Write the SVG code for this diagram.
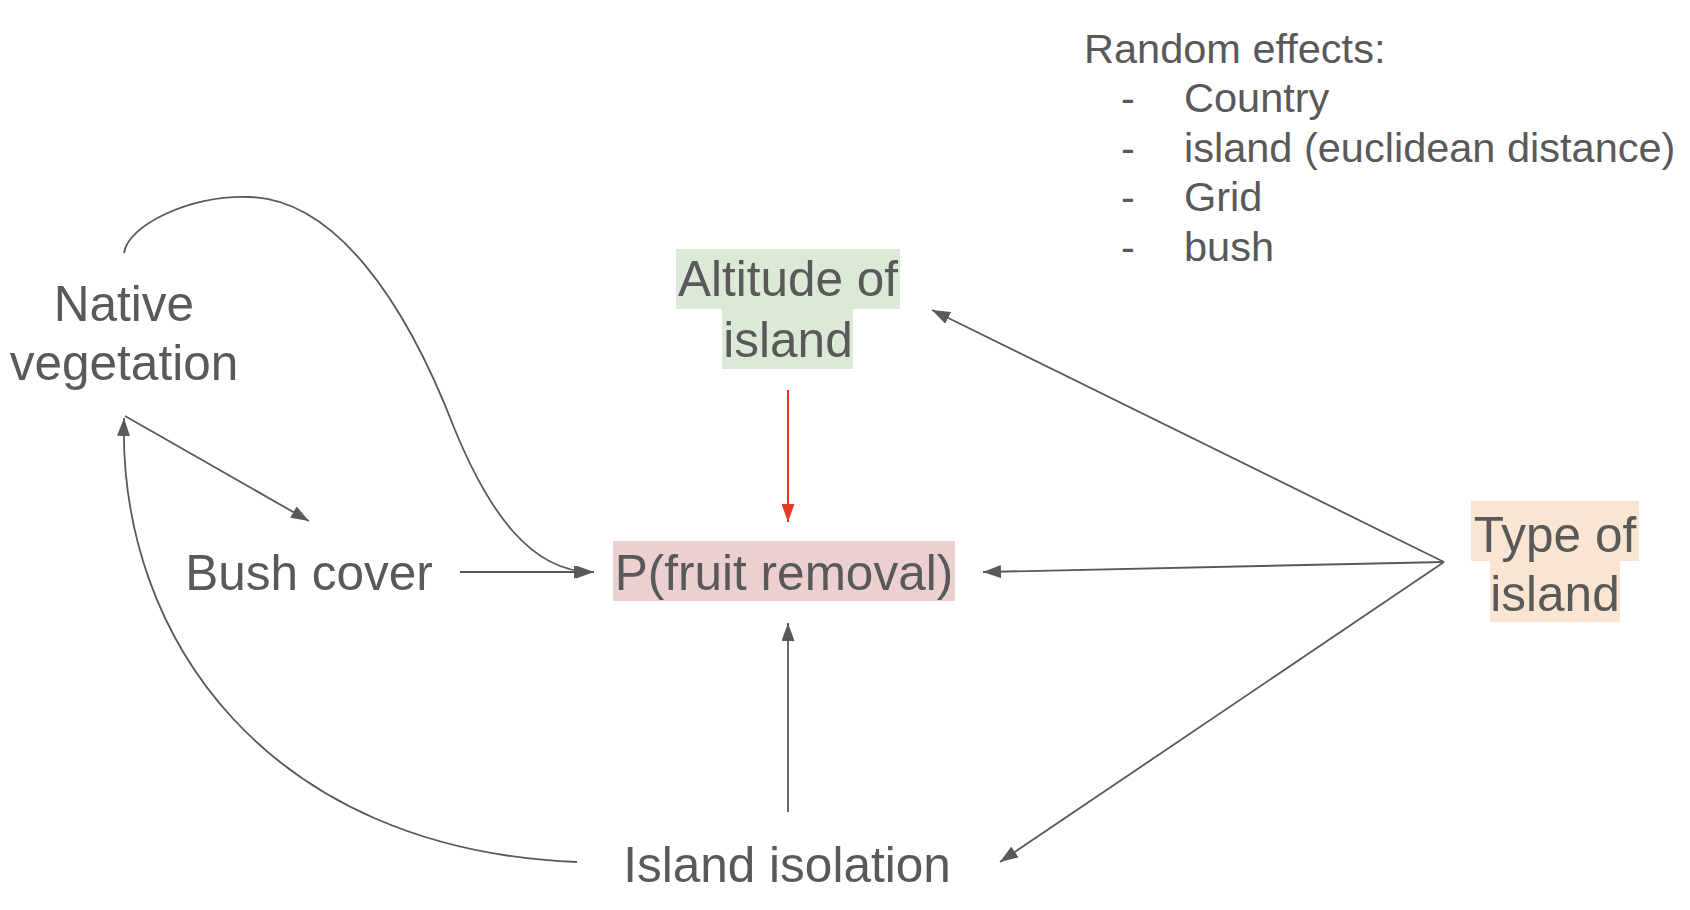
<svg xmlns="http://www.w3.org/2000/svg" width="1690" height="910" viewBox="0 0 1690 910">
<style>
  text { font-family: "Liberation Sans", Arial, sans-serif; fill: #595959; }
  .node { font-size: 49.5px; text-anchor: middle; }
  .re { font-size: 41.5px; }
  .conn { fill: none; stroke: #595959; stroke-width: 1.8; }
  .red { fill: none; stroke: #e8392b; stroke-width: 2; }
</style>
<defs>
  <marker id="ah" markerUnits="userSpaceOnUse" markerWidth="18" markerHeight="13" refX="18" refY="6.5" orient="auto">
    <path d="M0,0 L18,6.5 L0,13 z" fill="#595959"/>
  </marker>
  <marker id="ahr" markerUnits="userSpaceOnUse" markerWidth="18" markerHeight="13" refX="18" refY="6.5" orient="auto">
    <path d="M0,0 L18,6.5 L0,13 z" fill="#e8392b"/>
  </marker>
</defs>
<rect width="1690" height="910" fill="#ffffff"/>

<g id="connectors">
  <path class="conn" d="M124,253 C128,225 190,195 250,197 C335,200 405,300 455,430 C488,510 530,572 592,572" marker-end="url(#ah)"/>
  <line class="conn" x1="125" y1="416" x2="309" y2="521" marker-end="url(#ah)"/>
  <line class="conn" x1="460" y1="572" x2="594" y2="572" marker-end="url(#ah)"/>
  <path class="conn" d="M577,862 C270,850 118,640 124,418" marker-end="url(#ah)"/>
  <line class="red" x1="788" y1="390" x2="788" y2="522" marker-end="url(#ahr)"/>
  <line class="conn" x1="788" y1="812" x2="788" y2="623" marker-end="url(#ah)"/>
  <line class="conn" x1="1444" y1="562" x2="932" y2="310" marker-end="url(#ah)"/>
  <line class="conn" x1="1444" y1="562" x2="983" y2="572" marker-end="url(#ah)"/>
  <line class="conn" x1="1444" y1="562" x2="1000" y2="862" marker-end="url(#ah)"/>
</g>

<g id="native-vegetation">
  <text class="node" x="124" y="321">Native</text>
  <text class="node" x="124" y="380">vegetation</text>
</g>

<g id="bush-cover">
  <text class="node" x="309" y="590">Bush cover</text>
</g>

<g id="fruit-removal">
  <rect x="613" y="541" width="342" height="60" fill="#ecd0d1"/>
  <text class="node" x="784" y="590">P(fruit removal)</text>
</g>

<g id="altitude">
  <rect x="676" y="249" width="224" height="60" fill="#dde9d7"/>
  <rect x="722" y="309" width="131" height="60" fill="#dde9d7"/>
  <text class="node" x="788" y="296">Altitude of</text>
  <text class="node" x="788" y="357">island</text>
</g>

<g id="type-of-island">
  <rect x="1471" y="501" width="168" height="60" fill="#f9e5d1"/>
  <rect x="1490" y="561" width="130" height="61" fill="#f9e5d1"/>
  <text class="node" x="1555" y="552">Type of</text>
  <text class="node" x="1555" y="611">island</text>
</g>

<g id="island-isolation">
  <text class="node" x="787" y="882">Island isolation</text>
</g>

<g id="random-effects">
  <text class="re" x="1084" y="63">Random effects:</text>
  <text class="re" x="1121" y="112">-</text>
  <text class="re" x="1184" y="112">Country</text>
  <text class="re" x="1121" y="162">-</text>
  <text class="re" x="1184" y="162">island (euclidean distance)</text>
  <text class="re" x="1121" y="211">-</text>
  <text class="re" x="1184" y="211">Grid</text>
  <text class="re" x="1121" y="261">-</text>
  <text class="re" x="1184" y="261">bush</text>
</g>
</svg>
